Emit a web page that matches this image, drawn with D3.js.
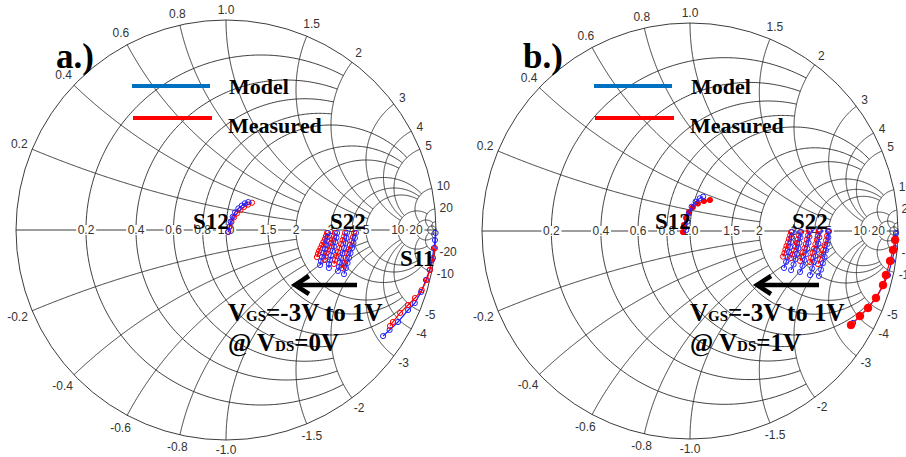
<!DOCTYPE html>
<html><head><meta charset="utf-8">
<script src="https://cdn.jsdelivr.net/npm/d3@7"></script>
<style>body{margin:0;background:#fff}svg{display:block}</style>
</head><body>
<svg id="c" width="906" height="457"></svg>
<script>
// Smith chart grid values and where each circle stops (in the other coordinate)
const gridValues = [0.2,0.4,0.6,0.8,1,1.5,2,3,4,5,10,20,50];
const gridEnds   = [2,2,2,2,5,5,5,10,10,10,20,50,Infinity];
const gridLabels = ["0.2","0.4","0.6","0.8","1.0","1.5","2","3","4","5","10","20",""];

// ---- panel a (Vds = 0 V) : reflection coefficients [re, im]
const s12ModelA = [[0.011,-0.008],[0.016,0.016],[0.022,0.040],[0.032,0.063],[0.043,0.084],[0.059,0.103],[0.075,0.116],[0.090,0.127],[0.106,0.133]];
const s12MeasA  = [[0.010,-0.010],[0.017,0.014],[0.026,0.038],[0.038,0.060],[0.052,0.079],[0.069,0.095],[0.086,0.110],[0.105,0.121],[0.124,0.130]];
const s22ModelA = [
 [[0.486,-0.014],[0.483,-0.033],[0.481,-0.052],[0.476,-0.071],[0.471,-0.090],[0.464,-0.110],[0.457,-0.129],[0.452,-0.148],[0.448,-0.167]],
 [[0.529,-0.014],[0.526,-0.036],[0.521,-0.057],[0.514,-0.079],[0.507,-0.100],[0.500,-0.121],[0.495,-0.143],[0.490,-0.162],[0.490,-0.181]],
 [[0.576,-0.014],[0.574,-0.038],[0.569,-0.062],[0.562,-0.086],[0.555,-0.110],[0.548,-0.133],[0.543,-0.155],[0.538,-0.176],[0.533,-0.195]],
 [[0.619,-0.014],[0.614,-0.038],[0.607,-0.062],[0.600,-0.086],[0.593,-0.110],[0.586,-0.133],[0.579,-0.157],[0.571,-0.181],[0.562,-0.210]]
];
const s22MeasA = [
 [[0.481,-0.014],[0.476,-0.029],[0.471,-0.043],[0.464,-0.057],[0.457,-0.071],[0.450,-0.086],[0.443,-0.100],[0.438,-0.114],[0.433,-0.129]],
 [[0.519,-0.014],[0.514,-0.030],[0.507,-0.045],[0.500,-0.062],[0.493,-0.078],[0.486,-0.093],[0.479,-0.110],[0.474,-0.125],[0.471,-0.143]],
 [[0.567,-0.014],[0.562,-0.031],[0.555,-0.048],[0.548,-0.067],[0.540,-0.086],[0.533,-0.105],[0.526,-0.124],[0.519,-0.143],[0.514,-0.162]],
 [[0.610,-0.014],[0.605,-0.033],[0.598,-0.052],[0.590,-0.071],[0.583,-0.093],[0.576,-0.112],[0.569,-0.133],[0.562,-0.157],[0.552,-0.181]]
];
const s11ModelA = [[0.998,-0.014],[0.995,-0.048],[0.990,-0.086],[0.981,-0.143],[0.970,-0.190],[0.952,-0.238],[0.929,-0.295],[0.899,-0.348],[0.867,-0.381],[0.819,-0.438],[0.779,-0.476],[0.748,-0.505]];
const s11MeasA  = [[0.995,-0.086],[0.986,-0.133],[0.971,-0.190],[0.956,-0.238],[0.932,-0.286],[0.900,-0.324],[0.867,-0.357],[0.829,-0.395],[0.795,-0.438],[0.781,-0.457]];

// ---- panel b (Vds = 1 V)
const s12ModelB = [[-0.018,0.005],[-0.013,0.045],[-0.005,0.085],[0.008,0.117],[0.027,0.141],[0.047,0.157],[0.063,0.165]];
const s12MeasB  = [[-0.034,-0.005],[-0.029,0.029],[-0.019,0.063],[-0.005,0.091],[0.014,0.115],[0.038,0.132],[0.067,0.144],[0.096,0.149]];
const s22ModelB = [
 [[0.490,-0.005],[0.488,-0.029],[0.486,-0.053],[0.481,-0.077],[0.476,-0.101],[0.469,-0.125],[0.462,-0.149],[0.452,-0.178]],
 [[0.534,-0.005],[0.531,-0.031],[0.526,-0.057],[0.521,-0.083],[0.514,-0.109],[0.507,-0.135],[0.498,-0.161],[0.486,-0.188]],
 [[0.577,0.000],[0.574,-0.028],[0.570,-0.056],[0.564,-0.084],[0.557,-0.112],[0.550,-0.140],[0.541,-0.168],[0.529,-0.197]],
 [[0.625,0.000],[0.622,-0.030],[0.617,-0.060],[0.611,-0.090],[0.603,-0.120],[0.596,-0.150],[0.587,-0.180],[0.577,-0.212]],
 [[0.668,0.000],[0.665,-0.031],[0.661,-0.062],[0.654,-0.093],[0.647,-0.124],[0.639,-0.155],[0.630,-0.186],[0.620,-0.216]]
];
const s22MeasB = [
 [[0.486,-0.005],[0.481,-0.022],[0.476,-0.038],[0.471,-0.055],[0.464,-0.072],[0.459,-0.089],[0.454,-0.106],[0.447,-0.123]],
 [[0.529,-0.005],[0.524,-0.022],[0.519,-0.040],[0.514,-0.058],[0.507,-0.076],[0.500,-0.094],[0.493,-0.112],[0.486,-0.130]],
 [[0.572,0.000],[0.567,-0.021],[0.562,-0.041],[0.557,-0.062],[0.550,-0.082],[0.543,-0.103],[0.536,-0.123],[0.529,-0.144]],
 [[0.620,0.000],[0.615,-0.021],[0.610,-0.042],[0.603,-0.064],[0.596,-0.085],[0.589,-0.106],[0.582,-0.128],[0.577,-0.149]],
 [[0.663,0.000],[0.659,-0.023],[0.654,-0.045],[0.647,-0.068],[0.640,-0.091],[0.632,-0.114],[0.625,-0.136],[0.615,-0.159]]
];
const s11ModelB = [[0.990,-0.010],[0.986,-0.082],[0.971,-0.144],[0.952,-0.212],[0.928,-0.264],[0.894,-0.322],[0.856,-0.370],[0.817,-0.409],[0.784,-0.442]];
const s11MeasB  = [[0.986,-0.043],[0.976,-0.091],[0.962,-0.144],[0.942,-0.212],[0.928,-0.260],[0.894,-0.322],[0.856,-0.370],[0.817,-0.409],[0.774,-0.452]];

const legendLabels = ["Model","Measured"];

const svg = d3.select("#c");
const GRID = "#262626";
const LBL = "#333";

function gam(r, xi){ const den=(r+1)*(r+1)+xi*xi; return [(r*r+xi*xi-1)/den, 2*xi/den]; }

function panel(cx, cy, R, d){
  const x = d3.scaleLinear().domain([-1,1]).range([cx-R, cx+R]);
  const y = d3.scaleLinear().domain([-1,1]).range([cy+R, cy-R]);
  const line = d3.line().x(p=>x(p[0])).y(p=>y(p[1]));
  const g = svg.append("g");
  const gg = g.append("g").attr("fill","none").attr("stroke",GRID).attr("stroke-width",0.9);
  const N = 300;
  gridValues.forEach((v,i)=>{
    const e = gridEnds[i];
    const c = v/(1+v), a = 1/(1+v);
    let th = 0;
    if (isFinite(e)) { const ge = gam(v,e); th = Math.atan2(ge[1], ge[0]-c); }
    const pts = d3.range(N+1).map(k=>{ const t = th + (2*Math.PI-2*th)*k/N; return [c+a*Math.cos(t), a*Math.sin(t)]; });
    gg.append("path").attr("d", line(pts));
    const norm = t => t<0 ? t+2*Math.PI : t;
    const g0 = gam(0,v);
    const f0 = norm(Math.atan2(g0[1]-1/v, g0[0]-1));
    let fe = 1.5*Math.PI;
    if (isFinite(e)) { const ge = gam(e,v); fe = norm(Math.atan2(ge[1]-1/v, ge[0]-1)); }
    const arc = d3.range(N+1).map(k=>{ const t=f0+(fe-f0)*k/N; return [1+Math.cos(t)/v, 1/v+Math.sin(t)/v]; });
    gg.append("path").attr("d", line(arc));
    gg.append("path").attr("d", line(arc.map(p=>[p[0],-p[1]])));
  });
  gg.append("path").attr("d", line([[-1,0],[1,0]]));
  gg.append("circle").attr("cx",x(0)).attr("cy",y(0)).attr("r",R);

  const lg = g.append("g").attr("font-family","Arial, 'Liberation Sans', sans-serif").attr("font-size",12).attr("fill",LBL)
    .attr("text-anchor","middle").attr("dominant-baseline","central");
  gridValues.forEach((v,i)=>{
    if(!gridLabels[i]) return;
    [1,-1].forEach(s=>{
      const p = gam(0, s*v);
      const txt = (s<0?"-":"")+gridLabels[i];
      const t = lg.append("text").text(txt);
      const w = t.node().getComputedTextLength();
      const off = 4 + Math.abs(p[0])*w/2 + Math.abs(p[1])*6;
      t.attr("x", x(p[0]) + p[0]*off).attr("y", y(p[1]) - p[1]*off);
    });
  });
  gridValues.forEach((v,i)=>{
    if(!gridLabels[i]) return;
    const p = gam(v,0);
    const t = lg.append("text").attr("x", x(p[0])).attr("y", y(0)).text(gridLabels[i]);
    const b = t.node().getBBox();
    lg.insert("rect","text").attr("x",b.x-1.5).attr("y",y(0)-5).attr("width",b.width+3).attr("height",10).attr("fill","#fff");
  });

  const dg = g.append("g");
  function series(pts, color, mr, filled){
    dg.append("path").attr("d", line(pts)).attr("fill","none").attr("stroke",color).attr("stroke-width",1.2);
    dg.selectAll(null).data(pts).enter().append("circle")
      .attr("cx",p=>x(p[0])).attr("cy",p=>y(p[1])).attr("r",mr)
      .attr("fill", filled ? color : "none").attr("stroke",color).attr("stroke-width",1);
  }
  series(d.s12m, "#ff0000", 2.6, d.redFill);
  series(d.s12mod, "#1f1fff", 2.6, false);
  d.s22m.forEach(s=>series(s, "#ff0000", 2.6, false));
  d.s22mod.forEach(s=>series(s, "#2a2aff", 2.6, false));
  series(d.s11mod, "#1f1fff", 2.6, false);
  series(d.s11m, "#ff0000", d.redFill?3.8:2.6, d.redFill);
  return g;
}

function annotate(dx, vds, tag, tagX){
  const a = svg.append("g").attr("font-family","'Times New Roman', 'Liberation Serif', serif").attr("font-weight","bold").attr("fill","#000");
  a.append("text").attr("x",tagX).attr("y",68).attr("font-size",35).text(tag);
  a.append("line").attr("x1",132+dx).attr("x2",210+dx).attr("y1",86).attr("y2",86).attr("stroke","#0070c0").attr("stroke-width",4);
  a.append("line").attr("x1",133+dx).attr("x2",212+dx).attr("y1",118).attr("y2",118).attr("stroke","#ff0000").attr("stroke-width",4);
  a.append("text").attr("x",229+dx).attr("y",94).attr("font-size",22).text(legendLabels[0]);
  a.append("text").attr("x",228+dx).attr("y",133).attr("font-size",22).text(legendLabels[1]);
  a.append("text").attr("x",193+dx).attr("y",229).attr("font-size",23).text("S12");
  a.append("text").attr("x",330+dx).attr("y",229).attr("font-size",23).text("S22");
  if(tag==="a.)") a.append("text").attr("x",400).attr("y",266).attr("font-size",23).text("S11");
  a.append("line").attr("x1",296+dx).attr("x2",357+dx).attr("y1",285).attr("y2",285).attr("stroke","#000").attr("stroke-width",4.5);
  a.append("path").attr("d",`M${309+dx},276 L${295+dx},285 L${309+dx},294`).attr("fill","none").attr("stroke","#000").attr("stroke-width",4.5);
  const t1 = a.append("text").attr("x",228+dx).attr("y",321).attr("font-size",25);
  t1.append("tspan").text("V");
  t1.append("tspan").attr("font-size",15).text("GS");
  t1.append("tspan").text("=-3V to 1V");
  const t2 = a.append("text").attr("x",228+dx).attr("y",351).attr("font-size",25);
  t2.append("tspan").text("@ V");
  t2.append("tspan").attr("font-size",15).text("DS");
  t2.append("tspan").text("="+vds);
}

panel(226, 230, 210, {s12mod:s12ModelA, s12m:s12MeasA, s22mod:s22ModelA, s22m:s22MeasA, s11mod:s11ModelA, s11m:s11MeasA, redFill:false});
panel(690, 231, 208, {s12mod:s12ModelB, s12m:s12MeasB, s22mod:s22ModelB, s22m:s22MeasB, s11mod:s11ModelB, s11m:s11MeasB, redFill:true});
annotate(0, "0V", "a.)", 56);
annotate(462, "1V", "b.)", 523);
</script>
</body></html>
